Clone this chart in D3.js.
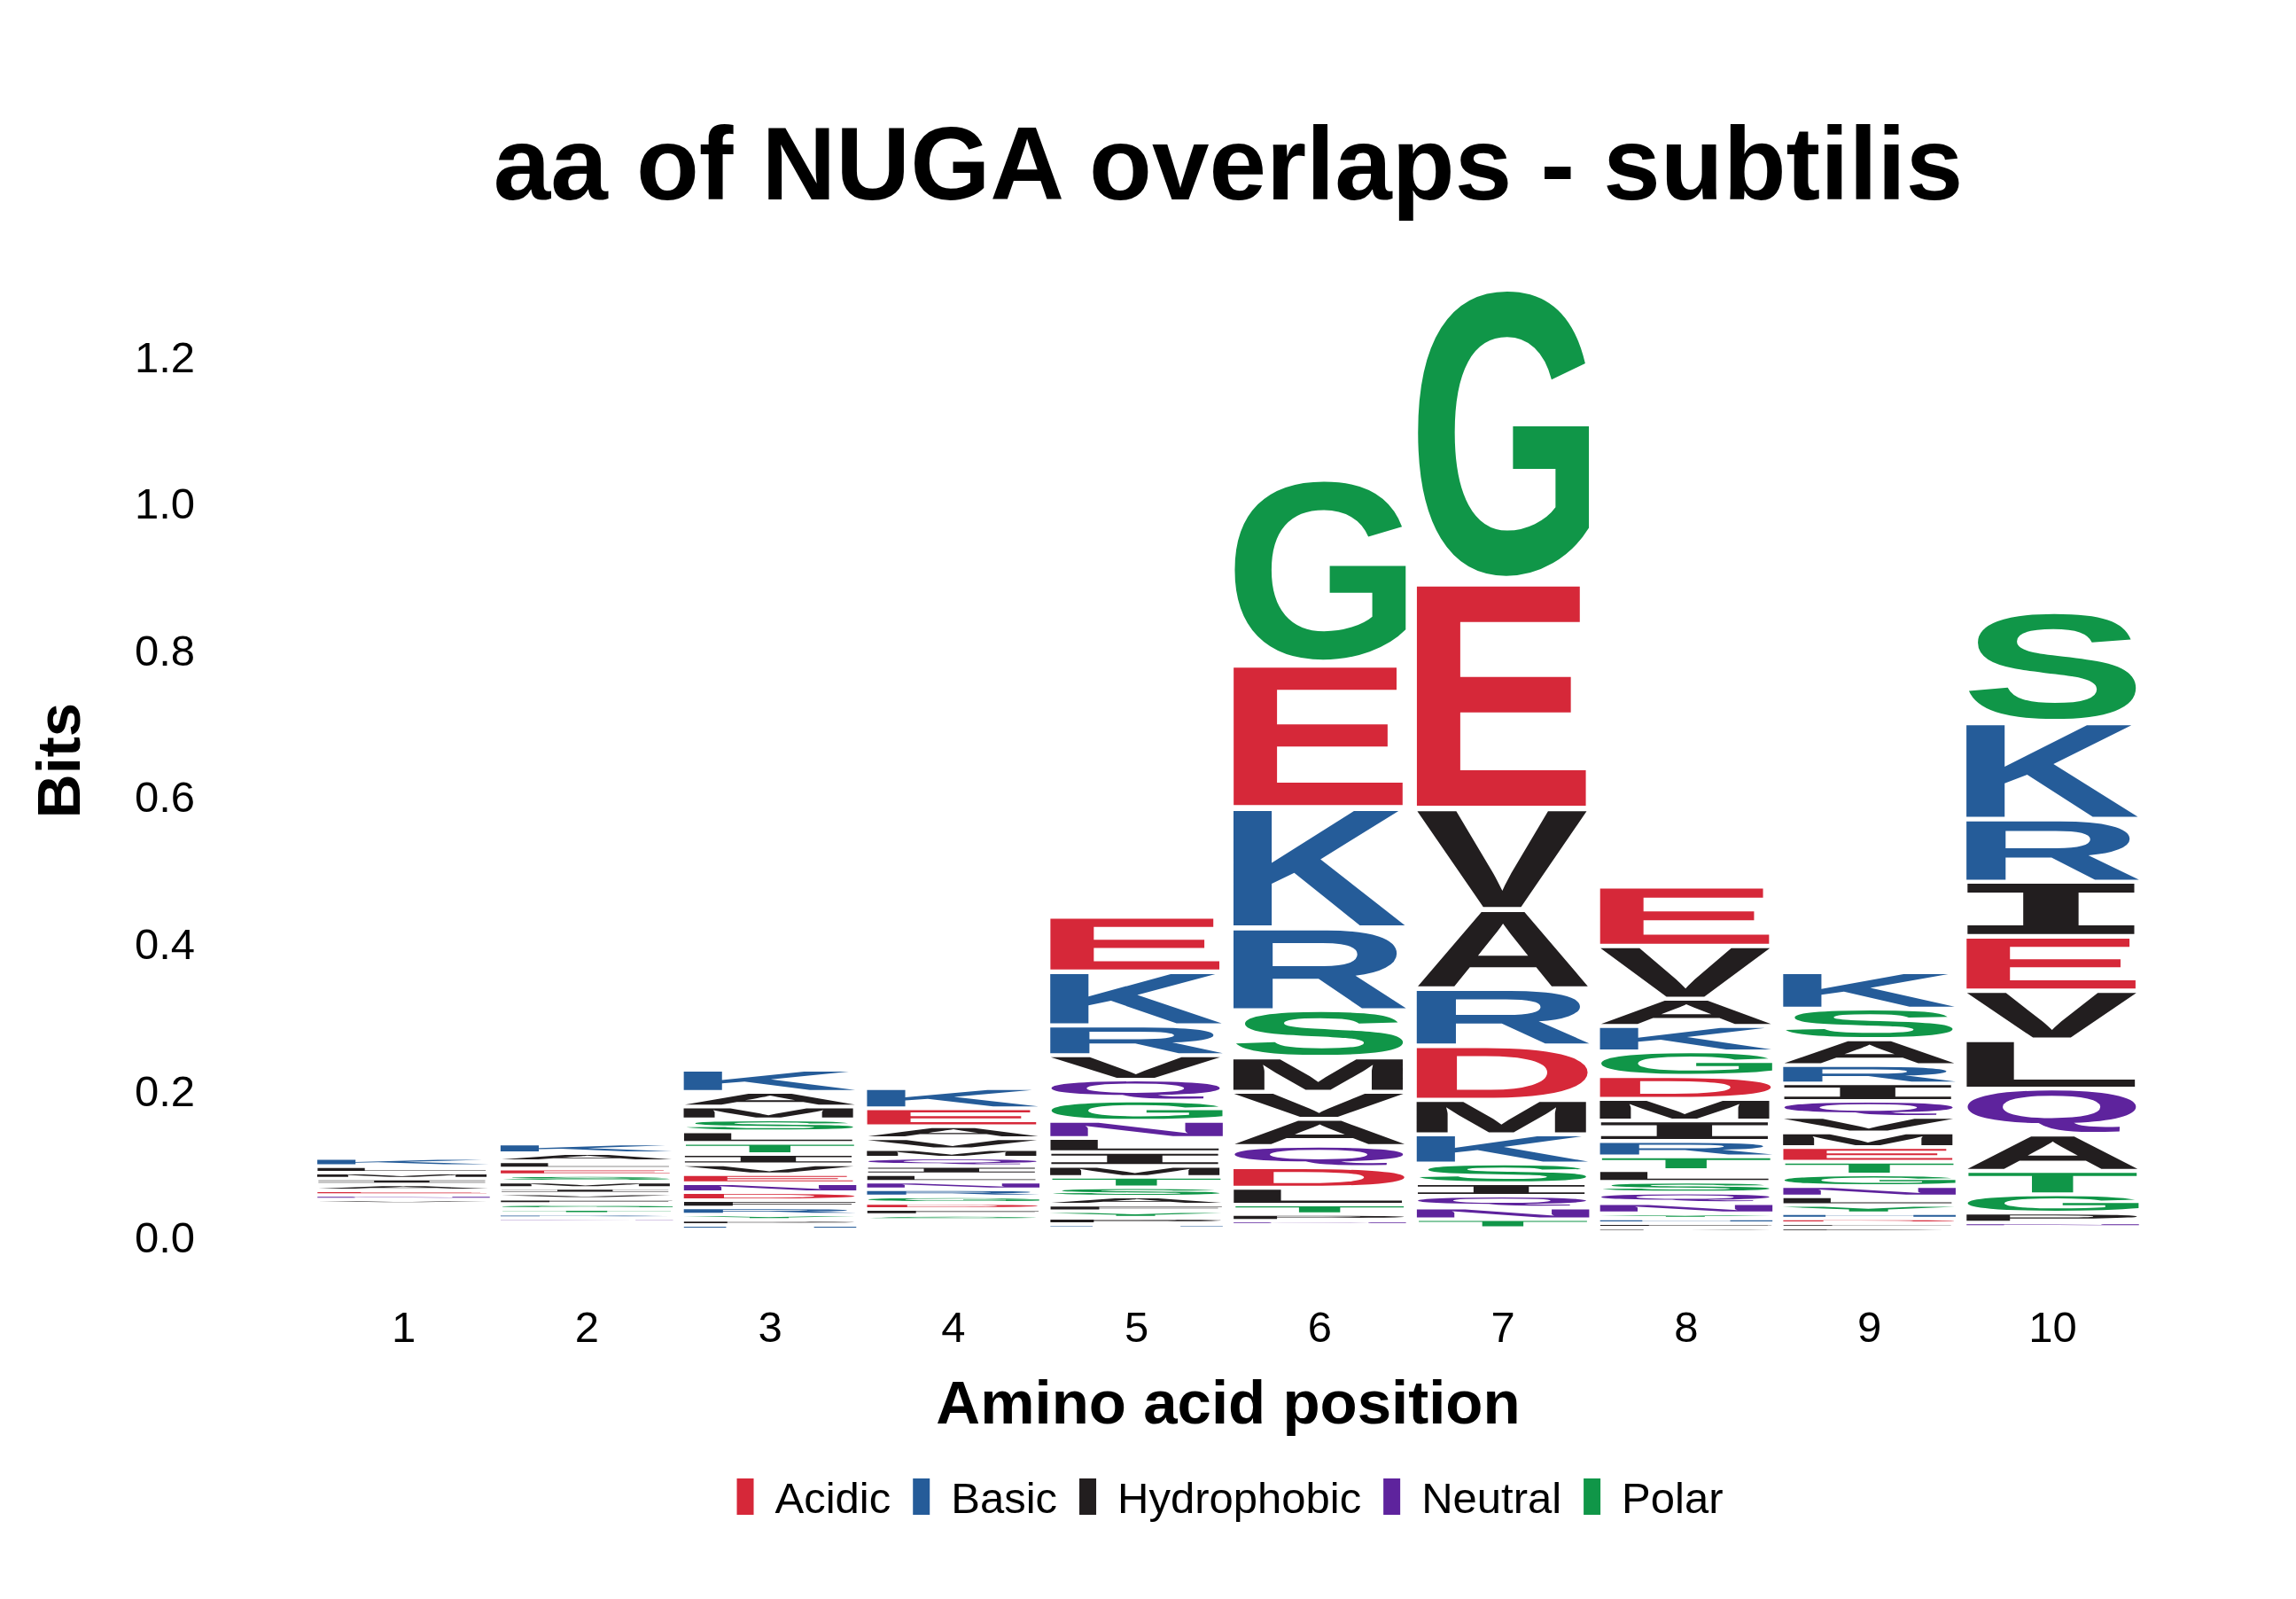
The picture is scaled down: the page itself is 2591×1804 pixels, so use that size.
<!DOCTYPE html>
<html>
<head>
<meta charset="utf-8">
<script src="https://cdn.jsdelivr.net/npm/d3@7"></script>
<style>
  body { margin: 0; background: #fff; }
  svg text { font-family: "Liberation Sans", Arial, sans-serif; }
</style>
</head>
<body>
<svg id="logo" width="2591" height="1804"></svg>
<script>
// Sequence logo of amino acids around NUGA overlaps (B. subtilis).
// Letters are listed from top of the stack to the bottom, heights in bits.
const positions = [1, 2, 3, 4, 5, 6, 7, 8, 9, 10];

const lettersPos1 = "KLMIAENVGSTRDQPFHYWC".split("");
const bitsPos1 = [0.011, 0.009, 0.008, 0.008, 0.008, 0.0065, 0.006, 0.006, 0.005, 0.0045,
                  0.004, 0.004, 0.004, 0.004, 0.0038, 0.0038, 0.0036, 0.0035, 0.0033, 0.0033];

const lettersPos2 = "KALESMIVFGTRNDQPHYWC".split("");
const bitsPos2 = [0.013, 0.011, 0.010, 0.009, 0.0088, 0.0086, 0.0075, 0.0073, 0.0071, 0.0068,
                  0.0066, 0.0058, 0.0052, 0.0045, 0.0035, 0.0033, 0.003, 0.003, 0.0026, 0.0024];

const lettersPos3 = "KAMSLTIVENDFRYPHGQWC".split("");
const bitsPos3 = [0.0306, 0.020, 0.0175, 0.0163, 0.0155, 0.0155, 0.0139, 0.0135, 0.0122, 0.0122,
                  0.011, 0.0098, 0.0098, 0.0073, 0.0069, 0.0061, 0.004, 0.003, 0.0027, 0.0023];

const lettersPos4 = "KEAVMQILNRGDFSTHPYWC".split("");
const bitsPos4 = [0.0277, 0.0245, 0.0163, 0.0151, 0.0116, 0.0114, 0.011, 0.0104, 0.0102, 0.0096,
                  0.009, 0.0084, 0.0082, 0.0066, 0.005, 0.0045, 0.0043, 0.004, 0.0037, 0.0035];

const lettersPos5 = "EKRVQGNLIMTSAFYPHDWC".split("");
const bitsPos5 = [0.0754, 0.0734, 0.0408, 0.0334, 0.0285, 0.0277, 0.0232, 0.0192, 0.0188, 0.0151,
                  0.0143, 0.0126, 0.011, 0.009, 0.0088, 0.0086, 0.0056, 0.005, 0.0046, 0.0042];

const lettersPos6 = "GEKRSMVAQDLTPNIFYHCW".split("");
const bitsPos6 = [0.251, 0.196, 0.164, 0.113, 0.064, 0.047, 0.037, 0.037, 0.029, 0.028,
                  0.023, 0.013, 0.009, 0.006, 0.005, 0.004, 0.003, 0.003, 0.002, 0.001];

const lettersPos7 = "GEVARDMKSIQNTLHFYPWC".split("");
const bitsPos7 = [0.398, 0.310, 0.138, 0.108, 0.078, 0.074, 0.047, 0.040, 0.027, 0.017,
                  0.016, 0.016, 0.012, 0.005, 0.003, 0.002, 0.002, 0.001, 0.0005, 0.0005];

const lettersPos8 = "EVAKGDMIRTLSQNYHFPWC".split("");
const bitsPos8 = [0.0814, 0.0723, 0.037, 0.035, 0.0334, 0.031, 0.0298, 0.0278, 0.0211, 0.0187,
                  0.0159, 0.0147, 0.0143, 0.014, 0.007, 0.0065, 0.006, 0.0055, 0.005, 0.004];

const lettersPos9 = "KSARIQVMETGNLYHDFPWC".split("");
const bitsPos9 = [0.050, 0.0417, 0.0354, 0.025, 0.0238, 0.0219, 0.0211, 0.0199, 0.0199, 0.0175,
                  0.0159, 0.0139, 0.0119, 0.0111, 0.0072, 0.0066, 0.006, 0.0055, 0.0048, 0.0041];

const lettersPos10 = "SKRIEVLQATGPNDMHFYWC".split("");
const bitsPos10 = [0.150, 0.132, 0.086, 0.074, 0.074, 0.067, 0.067, 0.062, 0.050, 0.032,
                   0.025, 0.0135, 0.006, 0.004, 0.0035, 0.0025, 0.002, 0.0015, 0.001, 0.001];

const posLetters = [lettersPos1, lettersPos2, lettersPos3, lettersPos4, lettersPos5,
                    lettersPos6, lettersPos7, lettersPos8, lettersPos9, lettersPos10];
const posBits = [bitsPos1, bitsPos2, bitsPos3, bitsPos4, bitsPos5,
                 bitsPos6, bitsPos7, bitsPos8, bitsPos9, bitsPos10];

const yTicks = [0, 0.2, 0.4, 0.6, 0.8, 1.0, 1.2];

// chemistry colour scheme
const groupNames = ["Acidic", "Basic", "Hydrophobic", "Neutral", "Polar"];
const groupMembers = ["DE", "KRH", "AVLIPWFM", "QN", "GSTYC"];
const groupColors = ["#D62839", "#255C99", "#221E1F", "#5E239D", "#109648"];

const FONT = "'Liberation Sans', Arial, sans-serif";
// the logo's I has bars top and bottom, so it comes from a mono face
const glyphFont = ch => ch === "I" ? "'DejaVu Sans Mono', monospace" : FONT;

const svg = d3.select("#logo");

const x = d3.scaleLinear().domain([1, 10]).range([455, 2316]);
const y = d3.scaleLinear().domain([0, 1.2]).range([1397, 403.4]);
const colW = 0.95 * (x(2) - x(1));

const color = d3.scaleOrdinal().domain(groupNames).range(groupColors);
function groupOf(ch) {
    return groupNames[groupMembers.findIndex(m => m.includes(ch))];
}

// tight ink box of each glyph, so a letter can be stretched to fill its cell
const GLYPH = 400;
const ctx = document.createElement("canvas").getContext("2d");
const ink = {};
"ACDEFGHIKLMNPQRSTVWY".split("").forEach(ch => {
    ctx.font = `bold ${GLYPH}px ${glyphFont(ch)}`;
    const m = ctx.measureText(ch);
    ink[ch] = {
        l: m.actualBoundingBoxLeft, r: m.actualBoundingBoxRight,
        a: m.actualBoundingBoxAscent, d: m.actualBoundingBoxDescent
    };
});

const glyphs = [];
positions.forEach((p, i) => {
    let base = 0;
    for (let j = posLetters[i].length - 1; j >= 0; j--) {
        glyphs.push({ pos: p, ch: posLetters[i][j], y0: base, y1: base + posBits[i][j] });
        base += posBits[i][j];
    }
});

const pad = 2;
const drawn = glyphs.filter(d => (y(d.y0) - y(d.y1)) - 2 * pad > 0.15);

svg.append("g")
    .selectAll("text")
    .data(drawn)
    .join("text")
    .attr("x", 0)
    .attr("y", 0)
    .attr("font-size", GLYPH)
    .attr("font-weight", "bold")
    .style("font-family", d => glyphFont(d.ch))
    .attr("fill", d => color(groupOf(d.ch)))
    .attr("transform", d => {
        const b = ink[d.ch];
        const x0 = x(d.pos) - colW / 2;
        const top = y(d.y1) + pad;
        const bot = y(d.y0) - pad;
        const sx = colW / (b.l + b.r);
        const sy = (bot - top) / (b.a + b.d);
        return `translate(${x0 + b.l * sx},${top + b.a * sy}) scale(${sx},${sy})`;
    })
    .text(d => d.ch);

// axes: labels only
svg.append("g")
    .attr("transform", "translate(220,0)")
    .call(d3.axisLeft(y).tickValues(yTicks).tickFormat(d3.format(".1f")).tickSize(0).tickPadding(0))
    .call(g => g.select(".domain").remove())
    .attr("font-size", 49)
    .attr("font-family", FONT)
    .selectAll("text").attr("fill", "#000");

svg.append("g")
    .attr("transform", "translate(0,1460)")
    .call(d3.axisBottom(x).tickValues(positions).tickFormat(d3.format("d")).tickSize(0).tickPadding(19))
    .call(g => g.select(".domain").remove())
    .attr("font-size", 49)
    .attr("font-family", FONT)
    .selectAll("text").attr("fill", "#000");

svg.append("text")
    .attr("x", 1386)
    .attr("y", 225)
    .attr("text-anchor", "middle")
    .attr("font-size", 116)
    .attr("font-weight", "bold")
    .text("aa of NUGA overlaps - subtilis");

svg.append("text")
    .attr("x", 1386)
    .attr("y", 1606)
    .attr("text-anchor", "middle")
    .attr("font-size", 69)
    .attr("font-weight", "bold")
    .text("Amino acid position");

svg.append("text")
    .attr("transform", "translate(90,858) rotate(-90)")
    .attr("text-anchor", "middle")
    .attr("font-size", 69)
    .attr("font-weight", "bold")
    .text("Bits");

// legend
const legFont = 49, keyW = 19, keyH = 41, keyGap = 24, itemGap = 25;
ctx.font = `${legFont}px ${FONT}`;
const widths = groupNames.map(n => ctx.measureText(n).width);
const total = d3.sum(widths) + groupNames.length * (keyW + keyGap) + (groupNames.length - 1) * itemGap;
let lx = 1388 - total / 2;
const items = groupNames.map((n, i) => {
    const it = { name: n, x: lx };
    lx += keyW + keyGap + widths[i] + itemGap;
    return it;
});

const leg = svg.append("g").selectAll("g").data(items).join("g")
    .attr("transform", d => `translate(${d.x},1668)`);
leg.append("rect")
    .attr("width", keyW)
    .attr("height", keyH)
    .attr("fill", d => color(d.name));
leg.append("text")
    .attr("x", keyW + keyGap)
    .attr("y", 39)
    .attr("font-size", legFont)
    .text(d => d.name);
</script>
</body>
</html>
